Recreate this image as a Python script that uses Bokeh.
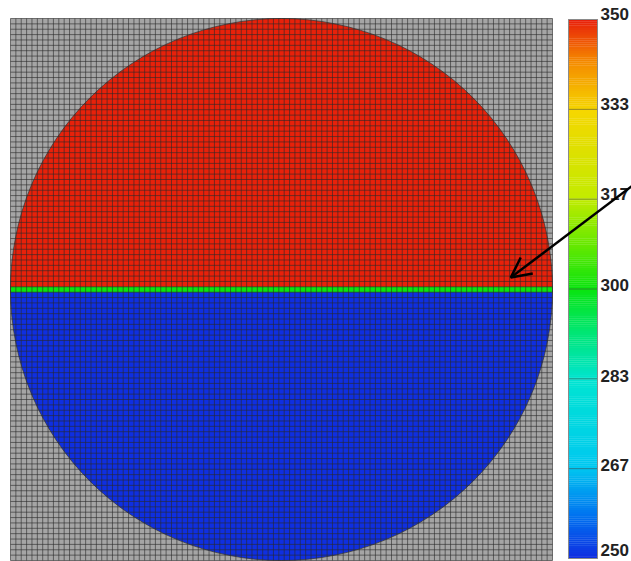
import numpy as np
from bokeh.plotting import figure
from bokeh.models import (LinearColorMapper, Range1d, Arrow, OpenHead, ColumnDataSource)
from bokeh.core.properties import value
from bokeh.transform import transform
from bokeh.embed import file_html
from bokeh.resources import INLINE

# ---- data ----
N_CELLS = 101                     # mesh cells per side
DOMAIN = [0.0, 100.0]             # domain extent (both axes)
ZONE_NAMES = ["top", "interface", "bottom"]
ZONE_VALUES = [350.0, 300.0, 250.0]
VMIN, VMAX = 250.0, 350.0
CB_TICKS = [250.0, 266.667, 283.333, 300.0, 316.667, 333.333, 350.0]
CB_LABELS = ["%.0f" % t for t in CB_TICKS]
ARROW_TARGET = [92.3, 52.2]       # points at the interface row
ARROW_TAIL = [117.2, 71.0]

# colour map stops (value, rgb)
STOP_VALS = [250, 258, 267, 283, 292, 300, 308, 317, 333, 342, 350]
STOP_RGB = [(15, 45, 225), (0, 115, 240), (0, 200, 240), (0, 228, 210), (0, 230, 115),
            (10, 228, 15), (100, 232, 0), (195, 235, 0), (245, 215, 0), (245, 140, 0),
            (232, 30, 10)]

NCOL = 256
cb_edges = np.linspace(VMIN, VMAX, NCOL + 1)
cb_mid = (cb_edges[:-1] + cb_edges[1:]) / 2
rgb = np.array(STOP_RGB, dtype=float)
palette = []
for v in cb_mid:
    r = np.interp(v, STOP_VALS, rgb[:, 0]); g = np.interp(v, STOP_VALS, rgb[:, 1]); b = np.interp(v, STOP_VALS, rgb[:, 2])
    palette.append("#%02x%02x%02x" % (int(round(r)), int(round(g)), int(round(b))))

mapper = LinearColorMapper(palette=palette, low=VMIN, high=VMAX, nan_color="#a5a5a5")

# ---- layout (pixels) ----
W, H = 631, 561
PX = 5.42                 # pixels per domain unit
X0_PX, Y0_PX = 10, 560    # pixel position of domain origin
CB_TOP_PX, CB_BOT_PX = 19, 558
CB_L_PX, CB_R_PX = 568, 597
LAB_PX = 600
LAB_DY = [-9, -4, -3, -4, -5, -5, -6]   # label nudges (px)

def xd(px):
    return (px - X0_PX) / PX

lo, hi = DOMAIN
cx = cy = (lo + hi) / 2
R = (hi - lo) / 2
cell = (hi - lo) / N_CELLS

cb_per_px = (VMAX - VMIN) / (CB_BOT_PX - CB_TOP_PX)

p = figure(width=W, height=H, output_backend="svg", toolbar_location=None,
           x_range=Range1d(xd(0), xd(W)),
           y_range=Range1d((Y0_PX - H) / PX, Y0_PX / PX),
           min_border=0)
p.extra_y_ranges = {"cb": Range1d(VMIN - (H - CB_BOT_PX) * cb_per_px, VMAX + CB_TOP_PX * cb_per_px)}
p.axis.visible = False
p.grid.visible = False
p.outline_line_color = None
p.background_fill_color = "white"
p.border_fill_color = "white"

# gray (empty) domain
p.quad(left=[lo], right=[hi], bottom=[lo], top=[hi], fill_color="#a5a5a5", line_color=None)

# half-disc zones
halves = ColumnDataSource(dict(x=[cx, cx], y=[cy, cy], r=[R, R],
                               start=[0.0, np.pi], end=[np.pi, 2 * np.pi],
                               val=[ZONE_VALUES[0], ZONE_VALUES[2]]))
p.wedge(x="x", y="y", radius="r", start_angle="start", end_angle="end", source=halves,
        fill_color=transform("val", mapper), line_color=None)
# interface row (one cell high)
iface = ColumnDataSource(dict(x=[cx], y=[cy], w=[2 * R], h=[cell], val=[ZONE_VALUES[1]]))
p.rect(x="x", y="y", width="w", height="h", source=iface,
       fill_color=transform("val", mapper), line_color=None)
# circle outline
p.circle(x=[cx], y=[cy], radius=R, fill_alpha=0, line_color="#333333", line_alpha=0.7, line_width=1)

# mesh lines
edges = np.linspace(lo, hi, N_CELLS + 1)
p.segment(x0=edges, y0=np.full_like(edges, lo), x1=edges, y1=np.full_like(edges, hi),
          line_color="#2a2a2a", line_alpha=0.6, line_width=1)
p.segment(x0=np.full_like(edges, lo), y0=edges, x1=np.full_like(edges, hi), y1=edges,
          line_color="#2a2a2a", line_alpha=0.6, line_width=1)

# colour bar
cbx0, cbx1 = xd(CB_L_PX), xd(CB_R_PX)
p.quad(left=cbx0, right=cbx1, bottom=cb_edges[:-1], top=cb_edges[1:] + 0.05,
       fill_color=palette, line_color=None, y_range_name="cb")
p.segment(x0=cbx0, x1=cbx1, y0=CB_TICKS, y1=CB_TICKS, line_color="#444444",
          line_alpha=0.55, line_width=1, y_range_name="cb")
p.quad(left=[cbx0], right=[cbx1], bottom=[VMIN], top=[VMAX], fill_alpha=0,
       line_color="#8a8a8a", line_width=1, y_range_name="cb")
labels = ColumnDataSource(dict(y=CB_TICKS, text=CB_LABELS, dy=LAB_DY))
p.text(x=xd(LAB_PX), y="y", text="text", y_offset="dy", source=labels, y_range_name="cb",
       text_font=value("Liberation Sans"), text_font_style="bold", text_font_size="17px",
       text_color="#222222", text_baseline="middle", text_align="left")

# arrow pointing at interface
p.add_layout(Arrow(end=OpenHead(size=20, line_width=2.5, line_color="black"),
                   x_start=ARROW_TAIL[0], y_start=ARROW_TAIL[1],
                   x_end=ARROW_TARGET[0], y_end=ARROW_TARGET[1],
                   line_width=2.5, line_color="black"))

open("out.html", "w").write(file_html(p, INLINE))
